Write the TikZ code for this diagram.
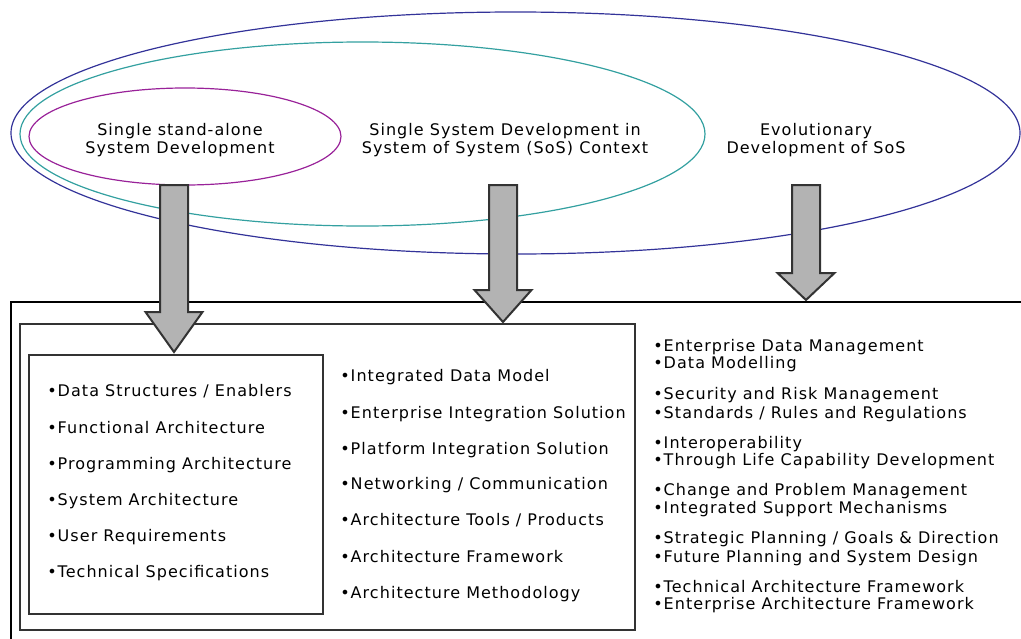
\documentclass[tikz,border=0pt]{standalone}
\usepackage{fontspec}
\setmainfont[LetterSpace=6.5]{DejaVu Sans}
\usepackage{tikz}

\definecolor{ringmag}{RGB}{153,34,153}
\definecolor{ringteal}{RGB}{51,160,160}
\definecolor{ringblue}{RGB}{51,51,153}
\definecolor{arrowgray}{RGB}{179,179,179}
\definecolor{edgegray}{RGB}{51,51,51}

\newcommand{\bul}{\textbullet}

\tikzset{
  ringtext/.style={align=center, font=\fontsize{12}{13.5}\selectfont, inner sep=0pt},
  entry/.style={anchor=base west, font=\fontsize{12}{13.5}\selectfont, inner sep=0pt},
  blockarrow/.style={draw=edgegray, fill=arrowgray, line width=1.5pt, line join=miter},
  listbox/.style={draw=edgegray, line width=1.1pt},
}

\begin{document}
\begin{tikzpicture}[x=0.75pt, y=-0.75pt]
      \clip (0,0) rectangle (1021,639);

      \draw[ringblue, line width=0.9pt] (515.5,133) ellipse [x radius=504.5, y radius=121];
      \draw[ringteal, line width=0.9pt] (362.5,134) ellipse [x radius=342.5, y radius=92];
      \draw[ringmag, line width=0.9pt] (185,136.5) ellipse [x radius=156, y radius=48.5];

      \node[ringtext] (standalone) at (180,140) {Single stand-alone\\System Development};
      \node[ringtext] (insos) at (505,140) {Single System Development in\\System of System (SoS) Context};
      \node[ringtext] (evolve) at (816,140) {Evolutionary\\Development of SoS};

      \draw[black, line width=1.1pt] (1040,302) -- (11,302) -- (11,660);
      \draw[listbox] (20,324) rectangle (635,630);
      \draw[listbox] (29,355) rectangle (323,614);

      \draw[blockarrow] (160,185) -- (188,185) -- (188,312) -- (202.5,312) -- (174,352) -- (145.5,312) -- (160,312) -- cycle;
      \draw[blockarrow] (489,185) -- (517,185) -- (517,290) -- (531.5,290) -- (503,322) -- (474.5,290) -- (489,290) -- cycle;
      \draw[blockarrow] (792,185) -- (820,185) -- (820,273) -- (834.5,273) -- (806,300) -- (777.5,273) -- (792,273) -- cycle;

      \node[entry] (sys1) at (47,396) {\bul Data Structures / Enablers};
      \node[entry] (sys2) at (47,433) {\bul Functional Architecture};
      \node[entry] (sys3) at (47,469) {\bul Programming Architecture};
      \node[entry] (sys4) at (47,505) {\bul System Architecture};
      \node[entry] (sys5) at (47,541) {\bul User Requirements};
      \node[entry] (sys6) at (47,577) {\bul Technical Specifications};

      \node[entry] (int1) at (340,381) {\bul Integrated Data Model};
      \node[entry] (int2) at (340,418) {\bul Enterprise Integration Solution};
      \node[entry] (int3) at (340,454) {\bul Platform Integration Solution};
      \node[entry] (int4) at (340,489) {\bul Networking / Communication};
      \node[entry] (int5) at (340,525) {\bul Architecture Tools / Products};
      \node[entry] (int6) at (340,562) {\bul Architecture Framework};
      \node[entry] (int7) at (340,598) {\bul Architecture Methodology};

      \node[entry] (ent1) at (653,351) {\bul Enterprise Data Management};
      \node[entry] (ent2) at (653,368) {\bul Data Modelling};
      \node[entry] (ent3) at (653,399) {\bul Security and Risk Management};
      \node[entry] (ent4) at (653,418) {\bul Standards / Rules and Regulations};
      \node[entry] (ent5) at (653,448) {\bul Interoperability};
      \node[entry] (ent6) at (653,465) {\bul Through Life Capability Development};
      \node[entry] (ent7) at (653,495) {\bul Change and Problem Management};
      \node[entry] (ent8) at (653,513) {\bul Integrated Support Mechanisms};
      \node[entry] (ent9) at (653,543) {\bul Strategic Planning / Goals \& Direction};
      \node[entry] (ent10) at (653,562) {\bul Future Planning and System Design};
      \node[entry] (ent11) at (653,592) {\bul Technical Architecture Framework};
      \node[entry] (ent12) at (653,609) {\bul Enterprise Architecture Framework};
\end{tikzpicture}
\end{document}
